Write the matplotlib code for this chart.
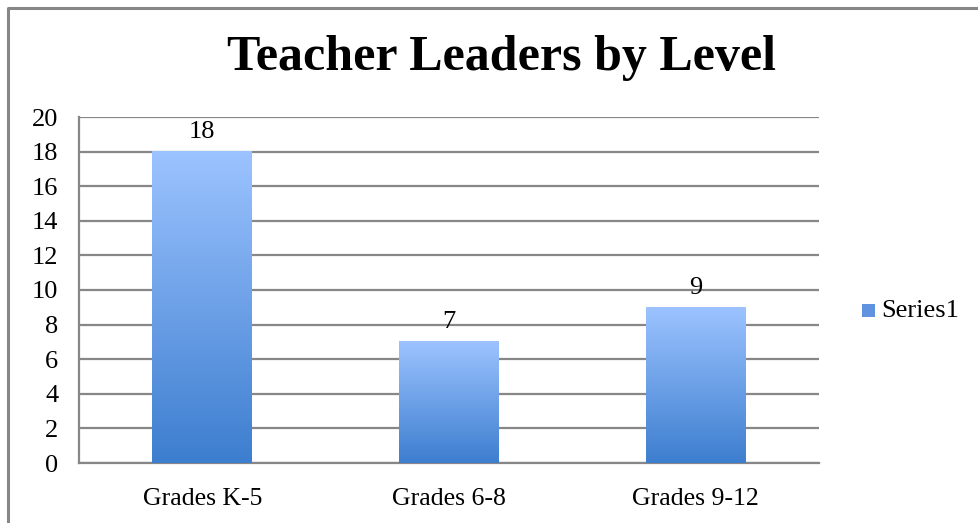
import matplotlib.pyplot as plt
import matplotlib.patches as mpatches
from matplotlib.lines import Line2D
from matplotlib.colors import LinearSegmentedColormap
import numpy as np

categories = ["Grades K-5", "Grades 6-8", "Grades 9-12"]
values = [18, 7, 9]
yticks = [0, 2, 4, 6, 8, 10, 12, 14, 16, 18, 20]

W, H = 979, 523
fig = plt.figure(figsize=(W / 100, H / 100), dpi=100)
plt.rcParams['font.family'] = ['Liberation Serif', 'DejaVu Serif']

# outer chart border (only top and left visible)
fig.lines.append(Line2D([8 / W, 8 / W, 1.0], [0.0, 1 - 8 / H, 1 - 8 / H],
                        transform=fig.transFigure, color='#878787', linewidth=2.2))

ax = fig.add_axes([79 / W, 1 - 463 / H, 740 / W, 346 / H])
x = np.arange(len(categories))
bw = 0.405

grad = LinearSegmentedColormap.from_list('g', ['#3D7ECF', '#9CC3FF'])
bars = ax.bar(x, values, width=bw, color='none', zorder=3)
for b in bars:
    x0, y0 = b.get_x(), b.get_y()
    ax.imshow(np.linspace(0, 1, 256).reshape(-1, 1), cmap=grad, origin='lower',
              aspect='auto', extent=[x0, x0 + b.get_width(), y0, y0 + b.get_height()],
              zorder=3)
    ax.text(b.get_x() + b.get_width() / 2, b.get_height() + 0.5, str(int(b.get_height())),
            ha='center', va='bottom', fontsize=19)

ax.set_xlim(-0.5, len(categories) - 0.5)
ax.set_ylim(0, 20)
ax.set_yticks(yticks)
ax.set_xticks(x)
ax.set_xticklabels(categories, fontsize=18.5)
ax.tick_params(axis='both', length=0)
ax.tick_params(axis='y', pad=15, labelsize=19)
ax.tick_params(axis='x', pad=18)
ax.yaxis.grid(True, color='#878787', linewidth=1.6, zorder=1)
ax.set_axisbelow(True)
for s in ['top', 'right']:
    ax.spines[s].set_visible(False)
for s in ['left', 'bottom']:
    ax.spines[s].set_color('#878787')
    ax.spines[s].set_linewidth(1.6)

fig.text(502 / W, 1 - 58 / H, "Teacher Leaders by Level", ha='center', va='center',
         fontsize=36, fontweight='bold')

# legend
fig.patches.append(mpatches.Rectangle((862 / W, 1 - 317 / H), 13 / W, 13 / H,
                                      transform=fig.transFigure, facecolor='#5F93E0',
                                      edgecolor='none'))
fig.text(881 / W, 1 - 311 / H, "Series1", ha='left', va='center', fontsize=19)

fig.savefig('out.png', dpi=100)
